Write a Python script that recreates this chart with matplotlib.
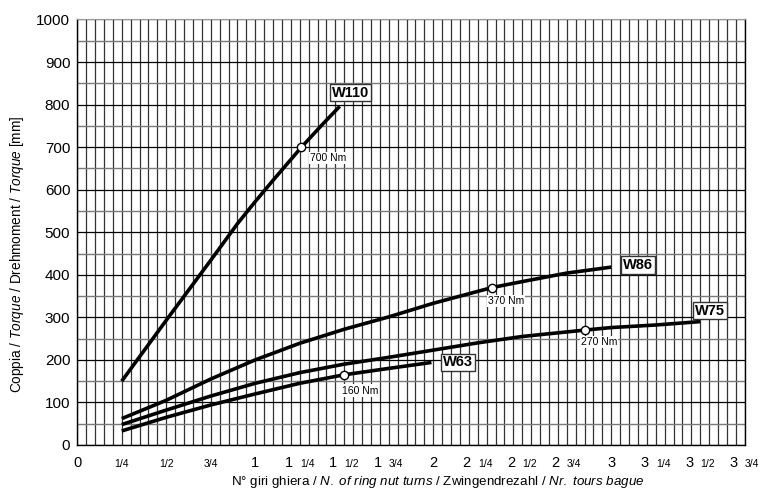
import numpy as np
import matplotlib
matplotlib.use('Agg')
import matplotlib.pyplot as plt
from matplotlib.transforms import offset_copy

plt.rcParams['font.family'] = ['Liberation Sans', 'DejaVu Sans']
plt.rcParams['mathtext.fontset'] = 'custom'
plt.rcParams['mathtext.rm'] = 'Liberation Sans'
plt.rcParams['mathtext.it'] = 'Liberation Sans:italic'

# ---- data (turns, torque) ----
w110_x = [0.25, 0.5, 0.75, 0.9, 1.0, 1.1, 1.26, 1.37, 1.475]
w110_y = [150, 293, 434, 520, 572, 622, 700, 750, 796]
w86_x = [0.25, 0.5, 0.75, 1.0, 1.25, 1.5, 1.75, 2.0, 2.25, 2.33, 2.5, 2.75, 3.0]
w86_y = [62, 105, 155, 200, 239, 272, 301, 333, 361, 370, 384, 404, 418]
w75_x = [0.25, 0.5, 0.75, 1.0, 1.25, 1.5, 1.75, 2.0, 2.25, 2.5, 2.85, 3.0, 3.25, 3.5]
w75_y = [48, 82, 115, 145, 170, 190, 206, 223, 240, 255, 270, 276, 282, 290]
w63_x = [0.25, 0.5, 0.75, 1.0, 1.25, 1.5, 1.75, 1.99]
w63_y = [33, 65, 94, 120, 145, 165, 180, 194]

series = [
    ('W110', w110_x, w110_y),
    ('W86', w86_x, w86_y),
    ('W75', w75_x, w75_y),
    ('W63', w63_x, w63_y),
]
# rated points (x, torque, label)
rated_x = [1.26, 2.33, 2.85, 1.5]
rated_y = [700, 370, 270, 165]
rated_txt = ['700 Nm', '370 Nm', '270 Nm', '160 Nm']
rated_lab_x = [1.41, 2.41, 2.93, 1.59]
rated_lab_y = [675, 339, 243, 128]
# name boxes
name_x = [1.535, 3.15, 3.555, 2.14]
name_y = [828, 423, 316, 194]
name_txt = ['W110', 'W86', 'W75', 'W63']

tick_pos = [0, 0.25, 0.5, 0.75, 1, 1.25, 1.5, 1.75, 2, 2.25, 2.5, 2.75, 3, 3.25, 3.5, 3.75]
tick_whole = ['0', '', '', '', '1', '1', '1', '1', '2', '2', '2', '2', '3', '3', '3', '3']
tick_frac = ['', '1/4', '1/2', '3/4', '', '1/4', '1/2', '3/4', '', '1/4', '1/2', '3/4', '', '1/4', '1/2', '3/4']

fig = plt.figure(figsize=(7.6, 4.91), dpi=100)
ax = fig.add_axes([0.1016, 0.0937, 0.8783, 0.8666])
ax.set_xlim(0, 3.75)
ax.set_ylim(0, 1000)

# grid
ax.set_xticks(tick_pos)
ax.set_xticks(np.arange(0, 3.751, 0.05), minor=True)
ax.set_yticks(range(0, 1001, 100))
ax.set_yticks(range(50, 1000, 100), minor=True)
ax.grid(which='both', axis='x', color='#333333', lw=0.9)
ax.grid(which='major', axis='y', color='black', lw=0.9)
ax.grid(which='minor', axis='y', color='#7a7a7a', lw=1.0)
ax.set_axisbelow(True)
ax.tick_params(which='both', length=0)
ax.tick_params(axis='y', labelsize=11, pad=5)
ax.set_xticklabels([''] * len(tick_pos))
for s in ['left', 'bottom', 'right']:
    ax.spines[s].set_color('black')
    ax.spines[s].set_linewidth(1.0)
ax.spines['top'].set_color('#999999')

# x tick labels: whole number big, fraction small
xt = ax.get_xaxis_transform()
for pos, wh, fr in zip(tick_pos, tick_whole, tick_frac):
    if wh and fr:
        t1 = offset_copy(xt, fig=fig, x=-7, y=-22, units='dots')
        ax.text(pos, 0, wh, transform=t1, ha='right', va='baseline', fontsize=10.5)
        t2 = offset_copy(xt, fig=fig, x=0, y=-22, units='dots')
        ax.text(pos, 0, fr, transform=t2, ha='left', va='baseline', fontsize=7.5)
    elif wh:
        t1 = offset_copy(xt, fig=fig, x=0, y=-22, units='dots')
        ax.text(pos, 0, wh, transform=t1, ha='center', va='baseline', fontsize=10.5)
    else:
        t2 = offset_copy(xt, fig=fig, x=0, y=-22, units='dots')
        ax.text(pos, 0, fr, transform=t2, ha='center', va='baseline', fontsize=7.5)

# curves
for name, xs, ys in series:
    ax.plot(xs, ys, color='black', lw=2.6, solid_capstyle='butt',
            solid_joinstyle='round', zorder=3)
ax.plot(rated_x, rated_y, 'o', ms=6, mfc='white', mec='black', mew=1.0, zorder=4)

for x, y, t in zip(rated_lab_x, rated_lab_y, rated_txt):
    ax.text(x, y, t, ha='center', va='center', fontsize=7.5, zorder=5,
            bbox=dict(boxstyle='square,pad=0.1', fc='white', ec='none'))
for x, y, t in zip(name_x, name_y, name_txt):
    ax.text(x, y, t, ha='center', va='center', fontsize=10.5, fontweight='bold', zorder=5,
            bbox=dict(boxstyle='square,pad=0.12', fc='white', ec='#333333', lw=1.0))

fig.text(17 / 760, 1 - 254 / 491,
         r'Coppia / $\mathit{Torque}$ / Drehmoment / $\mathit{Torque}$ [mm]',
         rotation=90, ha='center', va='center', fontsize=9.8)
fig.text(438 / 760, 1 - 481.5 / 491,
         r'N° giri ghiera / $\mathit{N.\ of\ ring\ nut\ turns}$ / Zwingendrezahl / $\mathit{Nr.\ tours\ bague}$',
         ha='center', va='center', fontsize=9.6)

fig.savefig('out.png', dpi=100)
